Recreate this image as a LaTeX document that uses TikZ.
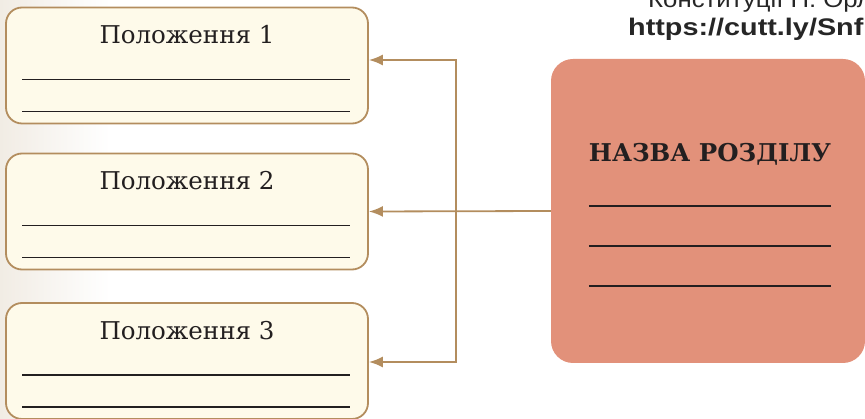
\documentclass[tikz,border=0pt]{standalone}
\usepackage{fontspec}
\setmainfont{DejaVu Serif}
\newfontfamily\urlfont{Liberation Sans}
\usetikzlibrary{arrows.meta,calc}
\definecolor{cream}{HTML}{FEFAEA}
\definecolor{brownline}{HTML}{B38D5E}
\definecolor{secfill}{HTML}{E2917A}
\definecolor{ink}{HTML}{231F20}
\definecolor{pageshade}{HTML}{F1ECE4}

\begin{document}
\begin{tikzpicture}[
  x=1pt, y=-1pt, font=\fontsize{24.5}{28}\selectfont, text=ink,
  posbox/.style={draw=brownline, line width=1.8pt, rounded corners=16pt, fill=cream,
                 minimum width=362pt, minimum height=116pt, inner sep=0pt},
  secbox/.style={fill=secfill, rounded corners=22pt, minimum width=314pt,
                 minimum height=304pt, inner sep=0pt},
  ttl/.style={anchor=base, inner sep=0pt},
  src/.style={anchor=base west, inner sep=0pt, text=black!85},
  wline/.style={ink, line width=1.4pt},
  sline/.style={ink, line width=2.2pt},
  ar/.style={brownline, line width=1.8pt, -{Latex[length=14pt,width=11pt]}},
  br/.style={brownline, line width=1.8pt,
             {Latex[length=14pt,width=11pt]}-{Latex[length=14pt,width=11pt]}}
]
\useasboundingbox (0,0) rectangle (865,419);
\clip (0,0) rectangle (865,419);
\shade[left color=pageshade, right color=white] (0,0) rectangle (110,419);

\node[src, font=\urlfont\fontsize{23}{25}\selectfont] (kons) at (648,7.5)
  {\scalebox{1.12}[1]{Конституції П. Орл}};
\node[src, font=\urlfont\bfseries\fontsize{24}{26}\selectfont] (url) at (628,36)
  {\scalebox{1.2}[1]{https://cutt.ly/Snf}};

\node[posbox] (p1) at (187,65.5) {};
\node[posbox] (p2) at (187,211.5) {};
\node[posbox] (p3) at (187,361) {};
\node[secbox] (sec) at (708,211) {};

\node[ttl] (t1) at ($(p1.north)+(0,37)$) {Положення 1};
\node[ttl] (t2) at ($(p2.north)+(0,37)$) {Положення 2};
\node[ttl] (t3) at ($(p3.north)+(0,37)$) {Положення 3};
\foreach \b in {p1,p2,p3} {
  \draw[wline] ($(\b.north west)+(17,73)$) -- ($(\b.north east)+(-19,73)$);
  \draw[wline] ($(\b.north west)+(17,105)$) -- ($(\b.north east)+(-19,105)$);
}

\node[ttl, font=\fontsize{24.5}{28}\selectfont\bfseries] (st) at (710,162) {НАЗВА РОЗДІЛУ};
\foreach \yy in {206,246,286}
  \draw[sline] ($(sec.west |- 0,\yy)+(38,0)$) -- ($(sec.east |- 0,\yy)+(-34,0)$);

\coordinate (j1) at (456,60);
\coordinate (j3) at (456,362);
\draw[br] (p1.east |- j1) -- (j1) -- (j3) -- (p3.east |- j3);
\draw[ar] (sec.west) -- (p2.east);
\end{tikzpicture}
\end{document}
